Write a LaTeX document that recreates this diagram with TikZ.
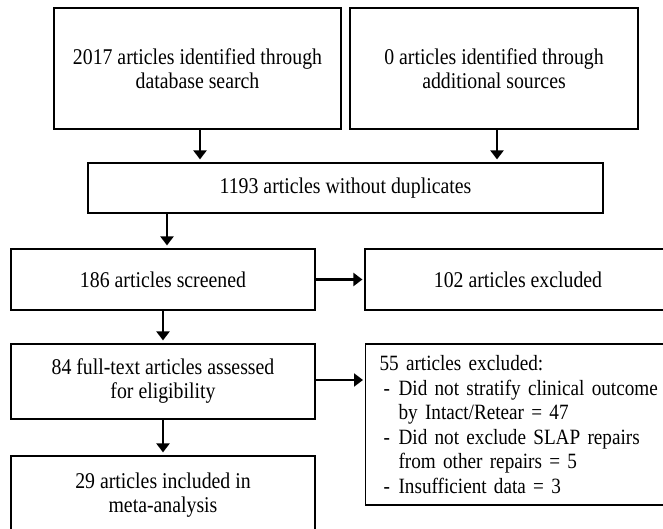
\documentclass[tikz,border=0pt]{standalone}
\usepackage{fontspec}
\setmainfont{Liberation Serif}[FakeStretch=0.88]
\usetikzlibrary{arrows.meta}
\begin{document}
\begin{tikzpicture}[x=1pt,y=-1pt,font=\fontsize{22.5}{24}\selectfont,
		box/.style={draw,line width=1.2pt,align=center,inner sep=0pt},
		arr/.style={-{Triangle[width=13pt,length=9pt]},line width=2.6pt,shorten >=3pt}]
	\useasboundingbox (0,0) rectangle (663,529);
	\node[box,minimum width=287pt,minimum height=121pt] (dbsearch) at (197.5,68.5) {2017 articles identified through\\database search};
	\node[box,minimum width=288pt,minimum height=121pt] (addsrc) at (494,68.5) {0 articles identified through\\additional sources};
	\node[box,minimum width=515pt,minimum height=50pt] (nodup) at (345.5,188) {1193 articles without duplicates};
	\node[box,minimum width=304pt,minimum height=61pt] (screened) at (163,279.5) {186 articles screened};
	\node[box,minimum width=306pt,minimum height=61pt] (excl) at (518,279.5) {102 articles excluded};
	\node[box,minimum width=304pt,minimum height=75pt] (fulltext) at (163,381.5) {84 full-text articles assessed\\for eligibility};
	\node[box,minimum width=304pt,minimum height=78pt] (included) at (163,495) {29 articles included in\\meta-analysis};
	\node[box,anchor=west,align=left,inner xsep=14pt,text width=300pt,minimum height=161pt,font=\fontsize{21.8}{24.6}\selectfont] (fullexcl) at (365,424.5) {55 articles excluded:\\
		\makebox[19pt][l]{\hspace{4pt}-}Did not stratify clinical outcome\\
		\hspace*{19pt}by Intact/Retear = 47\\
		\makebox[19pt][l]{\hspace{4pt}-}Did not exclude SLAP repairs\\
		\hspace*{19pt}from other repairs = 5\\
		\makebox[19pt][l]{\hspace{4pt}-}Insufficient data = 3};
	% arrows
	\draw[arr] ([xshift=2.5pt]dbsearch.south) -- ([xshift=2.5pt]dbsearch.south |- nodup.north);
	\draw[arr] ([xshift=3pt]addsrc.south) -- ([xshift=3pt]addsrc.south |- nodup.north);
	\draw[arr] ([xshift=4pt]screened.north |- nodup.south) -- ([xshift=4pt]screened.north);
	\draw[arr] (screened.south) -- (fulltext.north);
	\draw[arr] (fulltext.south) -- (included.north);
	\draw[arr,shorten >=2pt] (screened.east) -- (excl.west);
	\draw[arr,shorten >=2pt] ([yshift=1.5pt]fulltext.east) -- ([yshift=1.5pt]fulltext.east -| fullexcl.west);
\end{tikzpicture}
\end{document}
